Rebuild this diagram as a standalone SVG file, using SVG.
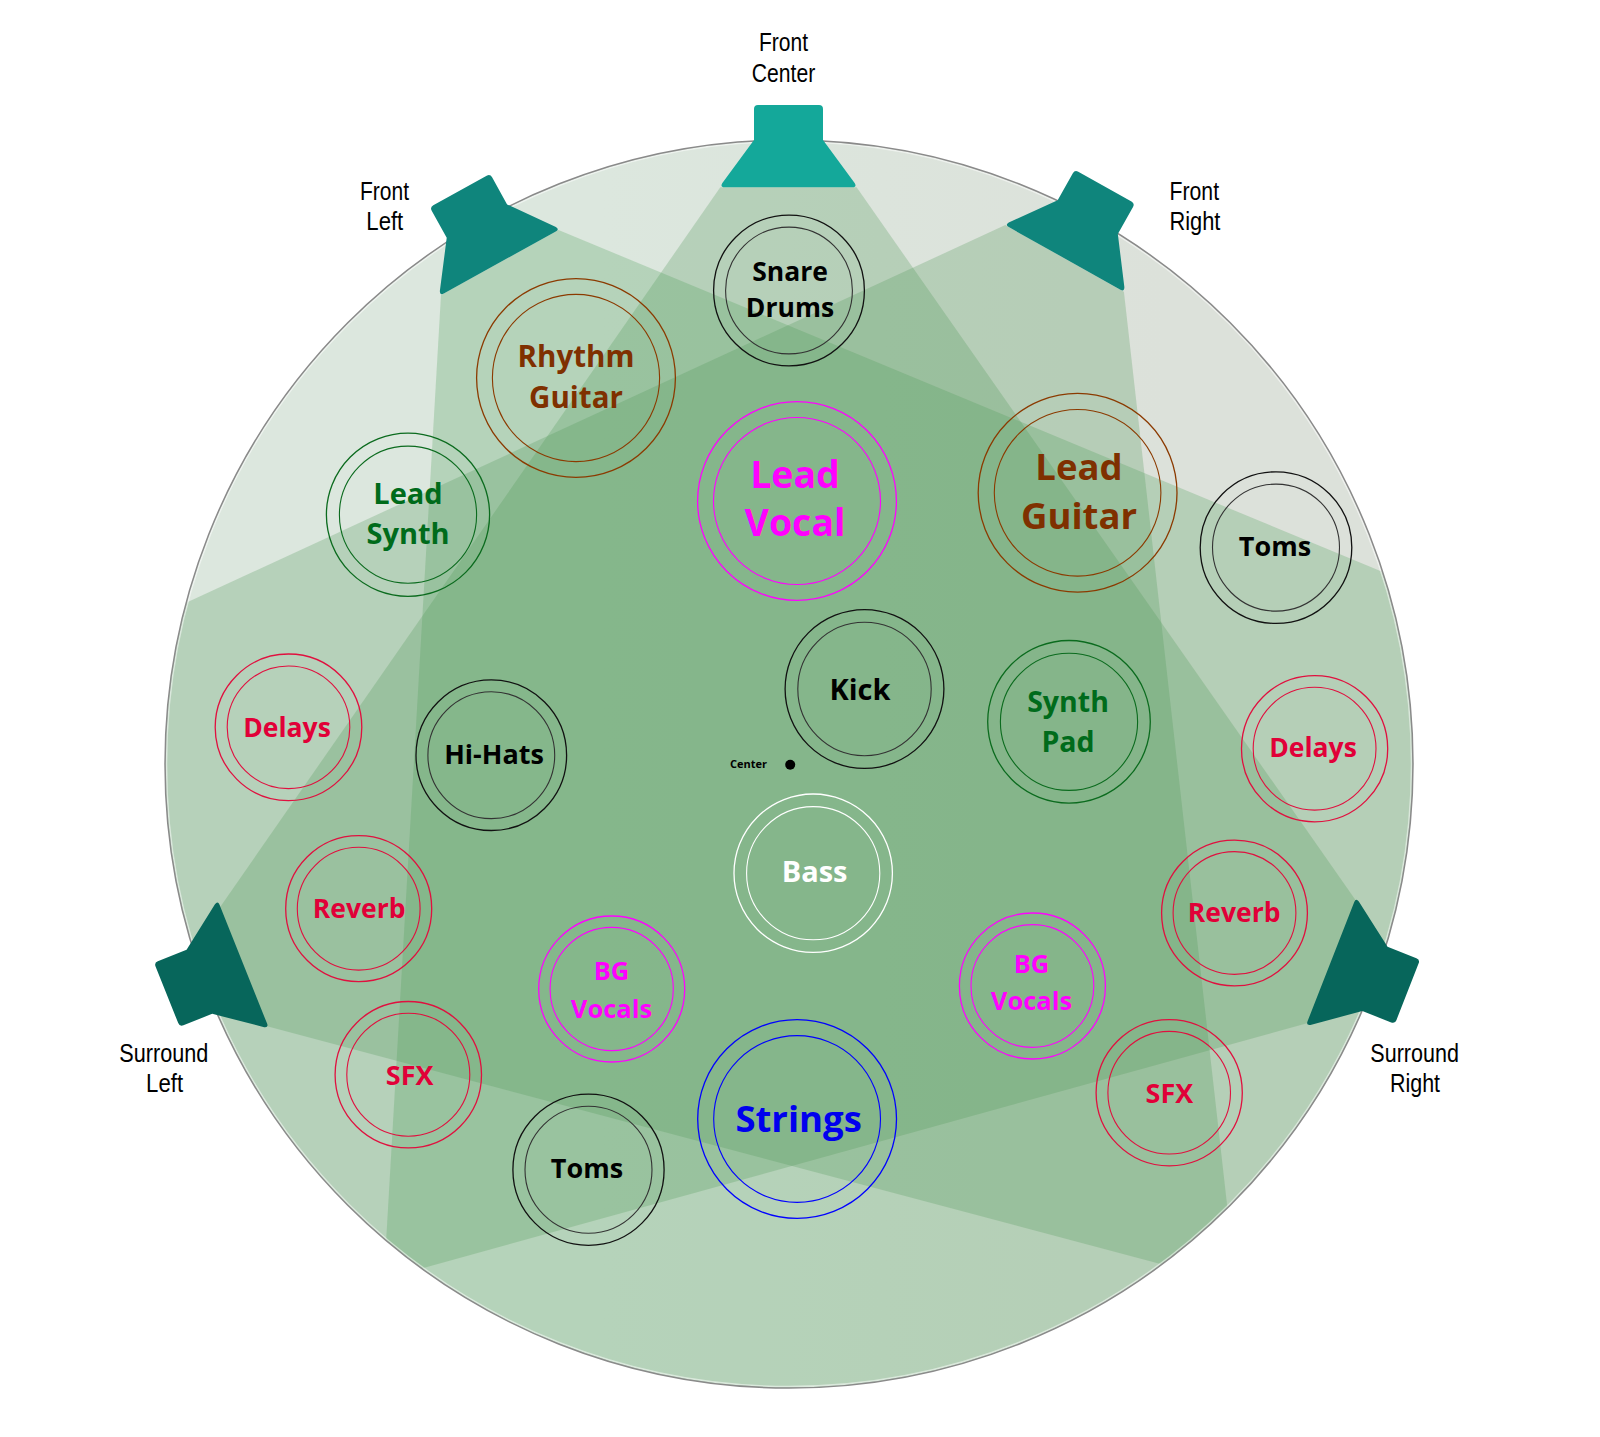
<svg xmlns="http://www.w3.org/2000/svg" width="1600" height="1437" viewBox="0 0 1600 1437">
<defs>
  <style>
    .ring{fill:none;stroke-width:1.3}
    .inner{fill:none;stroke-width:1.1}
    .lbl{font-family:"Open Sans","Noto Sans","Liberation Sans",sans-serif;font-weight:700;text-anchor:middle}
    .spk-lbl{font-family:"Liberation Sans Narrow","Liberation Sans","DejaVu Sans Condensed",sans-serif;font-size:25.5px;text-anchor:middle;fill:#000}
    .blk{stroke:#111}
    .blk2{stroke:#333}
    .brn{stroke:#8B3A00}
    .grn{stroke:#0B6B1E}
    .red{stroke:#E0103F}
    .mag{stroke:#FF00FF}
    .blu{stroke:#0000FF}
    .wht{stroke:#FFFFFF}
    .t-blk{fill:#000}
    .t-brn{fill:#7F3000}
    .t-grn{fill:#006B1B}
    .t-red{fill:#E10038}
    .t-mag{fill:#FF00FF}
    .t-blu{fill:#0000EE}
    .t-wht{fill:#FFFFFF}
  </style>
  <linearGradient id="baseGrad" x1="0" y1="0" x2="1" y2="0">
    <stop offset="0.35" stop-color="#DCE7DE"/>
    <stop offset="0.8" stop-color="#DCE1DA"/>
  </linearGradient>
  <clipPath id="discClip"><circle cx="789" cy="764" r="624"/></clipPath>
  <clipPath id="aboveSL"><polygon points="-100,-100 1700,-100 1700,1407.5 -100,928.7"/></clipPath>
  <clipPath id="aboveSR"><polygon points="-100,-100 1700,-100 1700,914.4 -100,1413"/></clipPath>
  <path id="spk" d="M-30.5,-82.3 H30.5 Q34.5,-82.3 34.5,-78.3 V-47.3 L66.3,-4 Q68.5,0 64,0 H-64 Q-68.5,0 -66.3,-4 L-34.5,-47.3 V-78.3 Q-34.5,-82.3 -30.5,-82.3 Z"/>
</defs>

<rect width="1600" height="1437" fill="#FFFFFF"/>

<g id="stage">
  <circle cx="789" cy="764" r="624" fill="url(#baseGrad)"/>
</g>

<g id="beams" clip-path="url(#discClip)" fill="#509655" fill-opacity="0.265">
  <polygon id="beam-front-center" clip-path="url(#aboveSR)" points="720.3,187.3 856.6,187.3 1775.5,1500 -192,1500"/>
  <polygon id="beam-front-left" fill="#4A9C58" points="441,295 558.5,230 2000,828.2 2000,1600 365.3,1600"/>
  <polygon id="beam-front-right" clip-path="url(#aboveSL)" points="1005.3,225.1 1123.9,291.7 1271.7,1600 -200,1600 -200,780.7"/>
</g>

<g id="stage-outline">
  <circle cx="789" cy="764" r="622.5" fill="none" stroke="#FFFFFF" stroke-opacity="0.5" stroke-width="1.5"/>
  <circle cx="789" cy="764" r="624" fill="none" stroke="#8A8A8A" stroke-width="1.5"/>
</g>

<g id="speaker-front-center">
  <use href="#spk" transform="translate(788.5,187.3)" fill="#14A89A"/>
  <text class="spk-lbl" x="783.5" y="50.7" textLength="49" lengthAdjust="spacingAndGlyphs">Front</text>
  <text class="spk-lbl" x="783.5" y="81.7" textLength="63.5" lengthAdjust="spacingAndGlyphs">Center</text>
</g>
<g id="speaker-front-left">
  <use href="#spk" transform="translate(499.8,262.5) rotate(-28.95)" fill="#0F857C"/>
  <text class="spk-lbl" x="384.5" y="200" textLength="49" lengthAdjust="spacingAndGlyphs">Front</text>
  <text class="spk-lbl" x="384.8" y="230" textLength="37" lengthAdjust="spacingAndGlyphs">Left</text>
</g>
<g id="speaker-front-right">
  <use href="#spk" transform="translate(1064.6,258.4) rotate(29.3)" fill="#0F857C"/>
  <text class="spk-lbl" x="1194.3" y="200" textLength="49.5" lengthAdjust="spacingAndGlyphs">Front</text>
  <text class="spk-lbl" x="1194.9" y="230" textLength="51" lengthAdjust="spacingAndGlyphs">Right</text>
</g>
<g id="speaker-surround-left">
  <use href="#spk" transform="translate(243.3,964.2) rotate(-111.8)" fill="#07665B"/>
  <text class="spk-lbl" x="163.8" y="1062" textLength="89" lengthAdjust="spacingAndGlyphs">Surround</text>
  <text class="spk-lbl" x="164.6" y="1092.3" textLength="37" lengthAdjust="spacingAndGlyphs">Left</text>
</g>
<g id="speaker-surround-right">
  <use href="#spk" transform="translate(1330.9,961.7) rotate(111.4)" fill="#07665B"/>
  <text class="spk-lbl" x="1414.6" y="1062" textLength="88.5" lengthAdjust="spacingAndGlyphs">Surround</text>
  <text class="spk-lbl" x="1415" y="1092.3" textLength="50" lengthAdjust="spacingAndGlyphs">Right</text>
</g>

<g id="node-snare-drums">
  <circle class="ring blk" cx="789" cy="290.5" r="75.4"/>
  <circle class="inner blk2" cx="789" cy="290.5" r="63.4"/>
  <text class="lbl t-blk" font-size="26.5" x="790" y="280.7">Snare</text>
  <text class="lbl t-blk" font-size="26.5" x="790" y="316.7">Drums</text>
</g>
<g id="node-rhythm-guitar">
  <circle class="ring brn" cx="576" cy="378" r="99.4"/>
  <circle class="inner brn" cx="576" cy="378" r="83.6"/>
  <text class="lbl t-brn" font-size="29.5" x="576" y="366.7">Rhythm</text>
  <text class="lbl t-brn" font-size="29.5" x="576" y="408.3">Guitar</text>
</g>
<g id="node-lead-vocal">
  <circle class="ring mag" cx="797" cy="501" r="99.4"/>
  <circle class="inner mag" cx="797" cy="501" r="83.5"/>
  <text class="lbl t-mag" font-size="37.5" x="795" y="488">Lead</text>
  <text class="lbl t-mag" font-size="37.5" x="795" y="536.3">Vocal</text>
</g>
<g id="node-lead-guitar">
  <circle class="ring brn" cx="1077.6" cy="492.8" r="99.4"/>
  <circle class="inner brn" cx="1077.6" cy="492.8" r="83.3"/>
  <text class="lbl t-brn" font-size="36.5" x="1079" y="480">Lead</text>
  <text class="lbl t-brn" font-size="36.5" x="1079" y="529">Guitar</text>
</g>
<g id="node-toms-right">
  <circle class="ring blk" cx="1276" cy="547.6" r="75.8"/>
  <circle class="inner blk2" cx="1276" cy="547.6" r="63.5"/>
  <text class="lbl t-blk" font-size="27" x="1275" y="556.3">Toms</text>
</g>
<g id="node-lead-synth">
  <circle class="ring grn" cx="408" cy="514.7" r="81.6"/>
  <circle class="inner grn" cx="408" cy="514.7" r="68.6"/>
  <text class="lbl t-grn" font-size="29" x="408" y="504">Lead</text>
  <text class="lbl t-grn" font-size="29" x="408" y="544">Synth</text>
</g>
<g id="node-delays-left">
  <circle class="ring red" cx="288.5" cy="727.3" r="73.3"/>
  <circle class="inner red" cx="288.5" cy="727.3" r="61.3"/>
  <text class="lbl t-red" font-size="26.5" x="287" y="737.3">Delays</text>
</g>
<g id="node-hi-hats">
  <circle class="ring blk" cx="491.3" cy="755.2" r="75.3"/>
  <circle class="inner blk2" cx="491.3" cy="755.2" r="63.4"/>
  <text class="lbl t-blk" font-size="27" x="494" y="764">Hi-Hats</text>
</g>
<g id="node-kick">
  <circle class="ring blk" cx="864.5" cy="689" r="79.4"/>
  <circle class="inner blk2" cx="864.5" cy="689" r="66.7"/>
  <text class="lbl t-blk" font-size="29" x="860" y="699.7">Kick</text>
</g>
<g id="node-synth-pad">
  <circle class="ring grn" cx="1069" cy="721.8" r="81.3"/>
  <circle class="inner grn" cx="1069" cy="721.8" r="68.6"/>
  <text class="lbl t-grn" font-size="28.5" x="1068" y="712.3">Synth</text>
  <text class="lbl t-grn" font-size="28.5" x="1068" y="752.3">Pad</text>
</g>
<g id="node-delays-right">
  <circle class="ring red" cx="1314.6" cy="748.7" r="73.1"/>
  <circle class="inner red" cx="1314.6" cy="748.7" r="61.4"/>
  <text class="lbl t-red" font-size="26.5" x="1313" y="757.3">Delays</text>
</g>
<g id="node-reverb-right">
  <circle class="ring red" cx="1234.5" cy="913" r="72.9"/>
  <circle class="inner red" cx="1234.5" cy="913" r="61.4"/>
  <text class="lbl t-red" font-size="26.5" x="1234.2" y="921.7">Reverb</text>
</g>
<g id="node-reverb-left">
  <circle class="ring red" cx="358.7" cy="908.7" r="73"/>
  <circle class="inner red" cx="358.7" cy="908.7" r="61.4"/>
  <text class="lbl t-red" font-size="26.5" x="359.2" y="918.3">Reverb</text>
</g>
<g id="node-sfx-left">
  <circle class="ring red" cx="408.3" cy="1074.7" r="73.2"/>
  <circle class="inner red" cx="408.3" cy="1074.7" r="61.5"/>
  <text class="lbl t-red" font-size="27" x="409.7" y="1085">SFX</text>
</g>
<g id="node-toms-left">
  <circle class="ring blk" cx="588.5" cy="1169.7" r="75.6"/>
  <circle class="inner blk2" cx="588.5" cy="1169.7" r="63.5"/>
  <text class="lbl t-blk" font-size="27" x="587" y="1178">Toms</text>
</g>
<g id="node-bg-vocals-left">
  <circle class="ring mag" cx="611.7" cy="989" r="73"/>
  <circle class="inner mag" cx="611.7" cy="989" r="61.6"/>
  <text class="lbl t-mag" font-size="25.5" x="611.5" y="979.7">BG</text>
  <text class="lbl t-mag" font-size="25.5" x="611.5" y="1018">Vocals</text>
</g>
<g id="node-bg-vocals-right">
  <circle class="ring mag" cx="1032.4" cy="986" r="73"/>
  <circle class="inner mag" cx="1032.4" cy="986" r="61.4"/>
  <text class="lbl t-mag" font-size="25.5" x="1031.5" y="973">BG</text>
  <text class="lbl t-mag" font-size="25.5" x="1031.5" y="1009.7">Vocals</text>
</g>
<g id="node-strings">
  <circle class="ring blu" cx="797.1" cy="1119" r="99.4"/>
  <circle class="inner blu" cx="797.1" cy="1119" r="83.4"/>
  <text class="lbl t-blu" font-size="36.5" x="798.6" y="1132">Strings</text>
</g>
<g id="node-sfx-right">
  <circle class="ring red" cx="1169.2" cy="1092.7" r="73.1"/>
  <circle class="inner red" cx="1169.2" cy="1092.7" r="61.3"/>
  <text class="lbl t-red" font-size="27" x="1169.4" y="1103">SFX</text>
</g>
<g id="node-bass">
  <circle class="ring wht" cx="813.2" cy="873.2" r="79.2"/>
  <circle class="inner wht" cx="813.2" cy="873.2" r="66.6"/>
  <text class="lbl t-wht" font-size="29" x="814.6" y="881.7">Bass</text>
</g>

<g id="center-marker">
  <circle cx="790.2" cy="764.7" r="5" fill="#000"/>
  <text class="lbl t-blk" font-size="11" x="767" y="768.3" style="text-anchor:end">Center</text>
</g>
</svg>
